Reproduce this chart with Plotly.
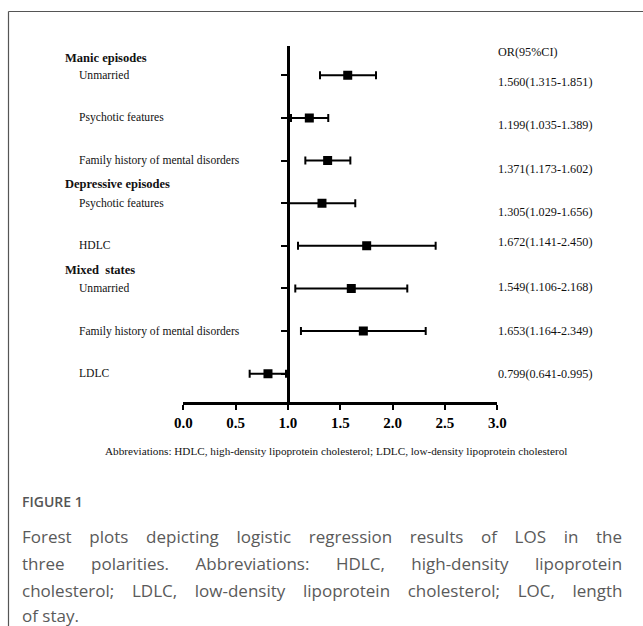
import plotly.graph_objects as go

# ---- data ----
row_labels = ["Unmarried", "Psychotic features", "Family history of mental disorders",
              "Psychotic features", "HDLC", "Unmarried",
              "Family history of mental disorders", "LDLC"]
group_labels = ["Manic episodes", "Depressive episodes", "Mixed\u00a0 states"]
or_point = [1.571, 1.204, 1.379, 1.325, 1.752, 1.605, 1.720, 0.809]
ci_low = [1.306, 1.029, 1.166, 1.010, 1.096, 1.070, 1.124, 0.634]
ci_high = [1.841, 1.385, 1.596, 1.643, 2.411, 2.140, 2.316, 0.981]
or_text = ["1.560(1.315-1.851)", "1.199(1.035-1.389)", "1.371(1.173-1.602)",
           "1.305(1.029-1.656)", "1.672(1.141-2.450)", "1.549(1.106-2.168)",
           "1.653(1.164-2.349)", "0.799(0.641-0.995)"]
x_ticks = [0.0, 0.5, 1.0, 1.5, 2.0, 2.5, 3.0]
x_ticktext = ["0.0", "0.5", "1.0", "1.5", "2.0", "2.5", "3.0"]

rows = list(range(1, len(row_labels) + 1))

# ---- layout constants ----
W, H = 643, 626
x0_px, x1_px = 183.3, 497.3
ytop_px, ybot_px = 46.0, 402.3
xdom = [x0_px / W, x1_px / W]
ydom = [(H - ybot_px) / H, (H - ytop_px) / H]
yaxis_pos = xdom[0] + (1 / 3) * (xdom[1] - xdom[0])
group_rows = [0.587, 3.55, 5.567]
or_shift = [-6.4, -7.4, -8.3, -9.0, 4.0, 1.6, 0.3, -0.3]

serif = "Liberation Serif, Times New Roman, serif"
sans = "Open Sans, Noto Sans, sans-serif"

fig = go.Figure()
fig.add_trace(go.Scatter(
    x=or_point, y=rows, mode="markers",
    marker=dict(symbol="square", size=9, color="black"),
    error_x=dict(type="data", symmetric=False,
                 array=[h - p for h, p in zip(ci_high, or_point)],
                 arrayminus=[p - l for p, l in zip(or_point, ci_low)],
                 thickness=2, width=4, color="black"),
    showlegend=False, hoverinfo="skip",
))

annotations = []
for r, lab in zip(rows, row_labels):
    annotations.append(dict(text=lab, x=76.5 / W, xref="paper", y=r, yref="y",
                            xanchor="left", yanchor="middle", showarrow=False,
                            font=dict(family=serif, size=11.6, color="#111")))
for r, lab in zip(group_rows, group_labels):
    annotations.append(dict(text=lab, x=63 / W, xref="paper", y=r, yref="y",
                            xanchor="left", yanchor="middle", showarrow=False,
                            font=dict(family=serif, size=12.5, color="#111", weight="bold")))
for r, t, s in zip(rows, or_text, or_shift):
    annotations.append(dict(text=t, x=496 / W, xref="paper", y=r, yref="y", yshift=s,
                            xanchor="left", yanchor="middle", showarrow=False,
                            font=dict(family=serif, size=12.2, color="#111")))
annotations.append(dict(text="OR(95%CI)", x=496 / W, xref="paper", y=(H - 52) / H, yref="paper",
                        xanchor="left", yanchor="middle", showarrow=False,
                        font=dict(family=serif, size=12.2, color="#111")))
annotations.append(dict(
    text="Abbreviations: HDLC, high-density lipoprotein cholesterol; LDLC, low-density lipoprotein cholesterol",
    x=336 / W, xref="paper", y=(H - 450.7) / H, yref="paper", xanchor="center", yanchor="middle",
    showarrow=False, font=dict(family=serif, size=11.2, color="#111")))
annotations.append(dict(text="FIGURE 1", x=19.5 / W, xref="paper", y=(H - 501.7) / H, yref="paper",
                        xanchor="left", yanchor="middle", showarrow=False,
                        font=dict(family=sans, size=14, color="#555", weight=600)))
caption_lines = ["Forest plots depicting logistic regression results of LOS in the",
                 "three polarities. Abbreviations: HDLC, high-density lipoprotein",
                 "cholesterol; LDLC, low-density lipoprotein cholesterol; LOC, length",
                 "of stay."]
cap_pad = [3, 5, 3, 0]
cap_y = [536.7, 563.3, 590.0, 615.0]
for line, pad, yy in zip(caption_lines, cap_pad, cap_y):
    txt = line.replace(" ", " " + "\u00a0" * pad)
    annotations.append(dict(text=txt, x=19.5 / W, xref="paper", y=(H - yy) / H, yref="paper",
                            xanchor="left", yanchor="middle", showarrow=False,
                            font=dict(family=sans, size=17, color="#5a5a5a")))

shapes = [
    dict(type="line", xref="paper", yref="paper", x0=8.5 / W, x1=1, y0=(H - 11.5) / H, y1=(H - 11.5) / H,
         line=dict(color="#555", width=1.2)),
    dict(type="line", xref="paper", yref="paper", x0=8.5 / W, x1=8.5 / W, y0=0, y1=(H - 11.5) / H,
         line=dict(color="#555", width=1.2)),
]

fig.update_layout(
    width=W, height=H, margin=dict(l=0, r=0, t=0, b=0, autoexpand=False),
    paper_bgcolor="white", plot_bgcolor="white",
    annotations=annotations, shapes=shapes,
    xaxis=dict(domain=xdom, range=[0, 3], tickvals=x_ticks, ticktext=x_ticktext,
               showgrid=False, zeroline=False, showline=True, linecolor="black", linewidth=2.5,
               ticks="outside", ticklen=5, tickwidth=2, tickcolor="black",
               tickfont=dict(family=serif, size=15, color="black", weight="bold")),
    yaxis=dict(domain=ydom, range=[8.67, 0.313], anchor="free", position=yaxis_pos,
               tickvals=rows, showticklabels=False, showgrid=False, zeroline=False,
               showline=True, linecolor="black", linewidth=2.5,
               ticks="outside", ticklen=6, tickwidth=2, tickcolor="black"),
)

fig.write_html("out.html", config={"displayModeBar": False},
               post_script="document.body.style.margin='0';")
